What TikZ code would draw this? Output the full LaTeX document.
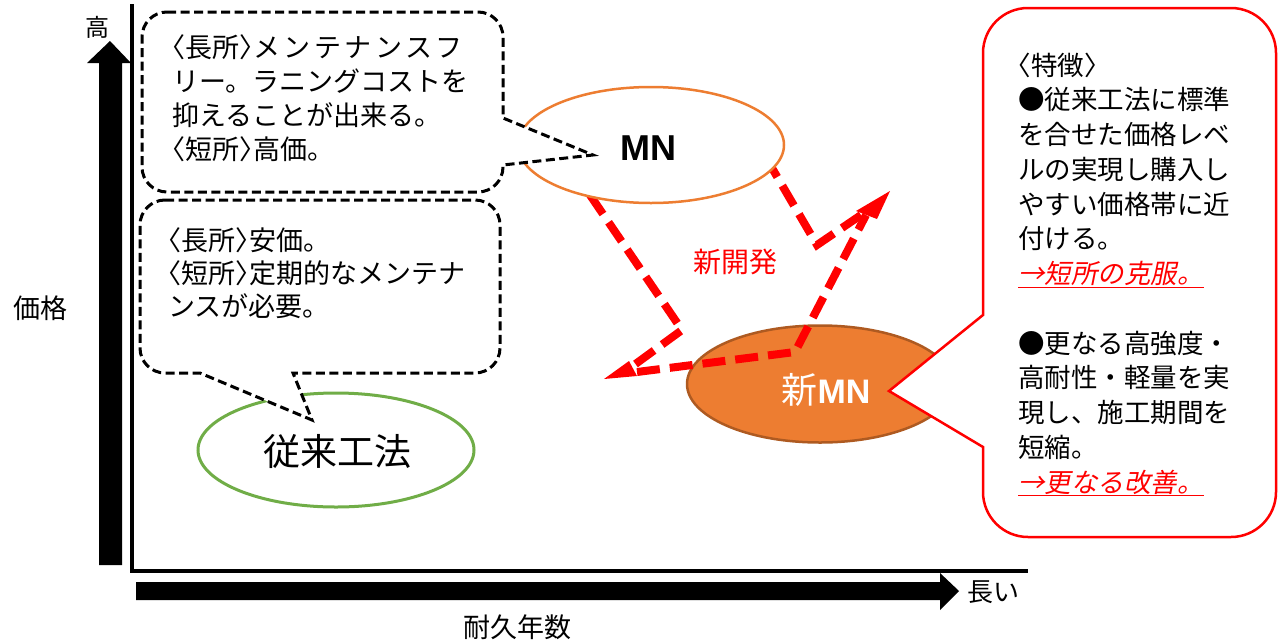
\documentclass[tikz,border=0pt]{standalone}
\usepackage{fontspec}
\usetikzlibrary{shapes.geometric}
\newfontfamily\jp{Noto Sans CJK JP}
\newfontfamily\jpsl{Noto Sans CJK JP}[FakeSlant=0.2]
\newfontfamily\lsans{Liberation Sans}
\definecolor{mnorange}{HTML}{ED7D31}
\definecolor{mndark}{HTML}{AE5A21}
\definecolor{convgreen}{HTML}{70AD47}
\newcommand\lbk{\makebox[0.5em][r]{〈}}
\newcommand\rbk{\makebox[0.5em][l]{〉}}
\begin{document}
\begin{tikzpicture}[x=1pt,y=-1pt,
  calloutdash/.style={draw=black, fill=white, line width=3pt, dash pattern=on 9pt off 4.5pt},
  redcall/.style={draw=red, fill=white, line width=2.5pt},
  reddash/.style={draw=red, line width=8pt, dash pattern=on 23pt off 10pt},
  redhead/.style={fill=red, draw=none},
  lbla/.style={anchor=base west, inner sep=0pt, font=\jp\fontsize{27}{32}\selectfont},
  lblc/.style={anchor=base west, inner sep=0pt, font=\jp\fontsize{26.5}{30}\selectfont},
  axlbl/.style={inner sep=0pt, font=\jp\fontsize{27}{30}\selectfont},
  ellbase/.style={ellipse, inner sep=0pt},
]
\useasboundingbox (0,0) rectangle (1279,643);
% axes
\draw[line width=4pt] (132,4) coordinate (ytop) -- (132,571) coordinate (origin) -- (1028,571) coordinate (xend);
\fill (99,565) -- (99,63) -- (87,63) -- (110,41) -- (131,63) -- (122,63) -- (122,565) -- cycle;
\fill (136,582) -- (940,582) -- (940,573) -- (959,591) -- (940,610) -- (940,600) -- (136,600) -- cycle;
\node[axlbl, font=\jp\fontsize{24}{28}\selectfont] (high) at (97,27) {高};
\node[axlbl] (price) at (40,308) {価格};
\node[axlbl, font=\jp\fontsize{26}{28}\selectfont] (long) at (993,592) {長い};
\node[axlbl] (years) at (517,627) {耐久年数};
% ellipses
\node[ellbase, draw=convgreen, fill=white, line width=3pt, minimum width=276pt, minimum height=114pt] (conv) at (336,450) {};
\node[ellbase, draw=mndark, fill=mnorange, line width=2.5pt, minimum width=266pt, minimum height=117pt] (newmn) at (820,384) {};
% red dashed zigzag arrows
\coordinate (a1) at (590,195);
\coordinate (a2) at (682,330);
\coordinate (a3) at (630,368);
\coordinate (b1) at (637,372);
\coordinate (b2) at (795,352);
\coordinate (b3) at (866,215);
\coordinate (c1) at (861,215);
\coordinate (c2) at (817,245);
\coordinate (c3) at (772,168);
\draw[reddash] (a1) -- (a2) -- (a3);
\fill[redhead] (604,379) -- (629,361) -- (637,376) -- cycle;
\draw[reddash] (b1) -- (b2) -- (b3);
\fill[redhead] (890,191) -- (856,211) -- (877,219) -- cycle;
\draw[reddash] (c1) -- (c2) -- (c3);
% MN ellipse
\node[ellbase, draw=mnorange, fill=white, line width=2.5pt, minimum width=266pt, minimum height=116pt] (mn) at (651,145) {};
% callout 1
\draw[calloutdash] (167,12) -- (478,12) arc[start angle=-90, end angle=0, radius=25]
  -- (503,118) -- (593,155) -- (503,165) -- (503,167) arc[start angle=0, end angle=90, radius=25]
  -- (167,192) arc[start angle=90, end angle=180, radius=25]
  -- (142,37) arc[start angle=180, end angle=270, radius=25] -- cycle;
% callout 2
\draw[calloutdash] (165,200) -- (475,200) arc[start angle=-90, end angle=0, radius=25]
  -- (500,348) arc[start angle=0, end angle=90, radius=25]
  -- (293,373) -- (312,420) -- (200,373)
  -- (165,373) arc[start angle=90, end angle=180, radius=25]
  -- (140,225) arc[start angle=180, end angle=270, radius=25] -- cycle;
% red callout
\draw[redcall] (1028,8) -- (1231,8) arc[start angle=-90, end angle=0, radius=45]
  -- (1276,492) arc[start angle=0, end angle=90, radius=45]
  -- (1028,537) arc[start angle=90, end angle=180, radius=45]
  -- (983,447) -- (889,391) -- (983,315)
  -- (983,53) arc[start angle=180, end angle=270, radius=45] -- cycle;
% texts in shapes
\node[inner sep=0pt, font=\lsans\bfseries\fontsize{36}{40}\selectfont] (mntext) at (648,148) {MN};
\node[inner sep=0pt, text=white, font=\fontsize{34}{40}\selectfont] (newmntext) at (826,390) {{\jp\fontsize{36}{40}\selectfont 新}{\lsans\bfseries MN}};
\node[inner sep=0pt, font=\jp\fontsize{37}{40}\selectfont] (convtext) at (337,452) {従来工法};
\node[inner sep=0pt, text=red, font=\jp\fontsize{28}{30}\selectfont] (newdev) at (735,262) {新開発};
% callout 1 text
\node[lbla] (t11) at (172,57) {\lbk 長所\rbk{\addfontfeature{LetterSpace=13}メンテナンスフ}};
\node[lbla] (t12) at (172,91) {リー。ラニングコストを};
\node[lbla] (t13) at (172,125) {抑えることが出来る。};
\node[lbla] (t14) at (172,159) {\lbk 短所\rbk 高価。};
% callout 2 text
\node[lbla] (t21) at (168,250) {\lbk 長所\rbk 安価。};
\node[lbla] (t22) at (168,283) {\lbk 短所\rbk 定期的なメンテナ};
\node[lbla] (t23) at (168,316) {ンスが必要。};
% red callout text
\node[lblc] (r0) at (1018,75) {\lbk 特徴\rbk};
\node[lblc] (r1) at (1018,109.75) {●従来工法に標準};
\node[lblc] (r2) at (1018,144.5) {を合せた価格レベ};
\node[lblc] (r3) at (1018,179.25) {ルの実現し購入し};
\node[lblc] (r4) at (1018,214) {やすい価格帯に近};
\node[lblc] (r5) at (1018,248.75) {付ける。};
\node[lblc, text=red] (r6) at (1018,283.5) {\underline{\jpsl →短所の克服。}};
\node[lblc] (r8) at (1018,353) {●更なる高強度・};
\node[lblc] (r9) at (1018,387.75) {高耐性・軽量を実};
\node[lblc] (r10) at (1018,422.5) {現し、施工期間を};
\node[lblc] (r11) at (1018,457.25) {短縮。};
\node[lblc, text=red] (r12) at (1018,492) {\underline{\jpsl →更なる改善。}};
\end{tikzpicture}
\end{document}
